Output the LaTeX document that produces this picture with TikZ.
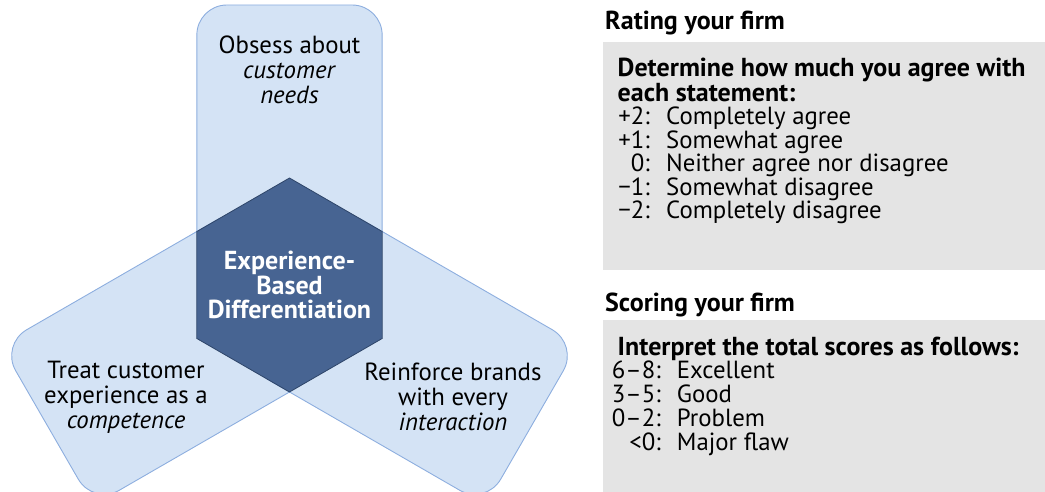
\documentclass[tikz,border=0pt]{standalone}
\usepackage{fontspec}
\setmainfont{PT Sans}
\usepackage{xcolor}
\usetikzlibrary{calc}

\definecolor{stripblue}{HTML}{D4E3F5}
\definecolor{stripedge}{HTML}{8DAEDF}
\definecolor{hexblue}{HTML}{476492}
\definecolor{hexedge}{HTML}{2E4569}
\definecolor{panelgray}{HTML}{E4E4E4}

\begin{document}
\begin{tikzpicture}[x=1pt,y=-1pt,
    strip/.style={fill=stripblue,draw=stripedge,line width=0.9pt,rounded corners=30pt},
    hexa/.style={fill=hexblue,draw=hexedge,line width=0.8pt},
    armtext/.style={align=center,inner sep=0pt,font=\fontsize{24.8}{25}\selectfont},
    hubtext/.style={align=center,inner sep=0pt,text=white,font=\fontsize{26}{24.5}\selectfont\bfseries},
    line/.style={inner sep=0pt,text height=15pt,text depth=5pt},
    head/.style={line,anchor=base west,font=\fontsize{26}{23.4}\selectfont\bfseries},
    block/.style={inner sep=0pt,anchor=base west,align=left,font=\fontsize{26}{23.4}\selectfont\bfseries},
    item/.style={line,anchor=base west,font=\fontsize{24.8}{23}\selectfont},
    score/.style={line,anchor=base east,font=\fontsize{24.8}{23}\selectfont}]
  \pgfmathsetmacro{\R}{107}     % hexagon radius
  \pgfmathsetmacro{\w}{92.66}   % half width of an arm
  \pgfmathsetmacro{\L}{280}     % arm length from the centre

  \useasboundingbox (0,0) rectangle (1045,492);
  \clip (0,0) rectangle (1045,492);

  \coordinate (C) at (289.5,285);

  % three arms, rounded at the outer end
  \foreach \a in {0,120,240}{
    \draw[strip,shift={(C)},rotate=\a] (-\w,-\L) rectangle (\w,0);
  }

  % hexagon where the arms meet
  \draw[hexa] ($(C)+(30:\R)$)
    \foreach \t in {90,150,...,330}{ -- ($(C)+(\t:\R)$) } -- cycle;

  % arm labels
  \node[armtext] (needs) at (289.5,70) {Obsess about\\\textit{customer}\\\textit{needs}};
  \node[armtext] (competence) at (126,397) {Treat customer\\experience as a\\\textit{competence}};
  \node[armtext] (interaction) at (453,397) {Reinforce brands\\with every\\\textit{interaction}};
  \node[hubtext] (hub) at (C) {Experience-\\Based\\Differentiation};

  % grey panels on the right
  \fill[panelgray] (603.3,41.7) rectangle (1045,270);
  \fill[panelgray] (603.3,320) rectangle (1045,492);

  % rating scale (block sits on the baseline of its last line)
  \node[head] (rating) at (605,29.3) {Rating your firm};
  \node[block] (determine) at (617.5,101.6) {Determine how much you agree with\\each statement:};
  \foreach \v/\t [count=\i] in {+2/Completely agree, +1/Somewhat agree,
      0/Neither agree nor disagree, −1/Somewhat disagree, −2/Completely disagree}{
    \node[score] (rate\i) at (650,101.6+23.4*\i) {\v:};
    \node[item] (rateText\i) at (666,101.6+23.4*\i) {\t};
  }

  % scoring bands
  \node[head] (scoring) at (605,311.7) {Scoring your firm};
  \node[head] (interpret) at (617.5,355) {Interpret the total scores as follows:};
  \foreach \v/\t [count=\i] in {6–8/Excellent, 3–5/Good, 0–2/Problem, <0/Major flaw}{
    \node[score] (band\i) at (661,355+23.8*\i) {\v:};
    \node[item] (bandText\i) at (676.7,355+23.8*\i) {\t};
  }
\end{tikzpicture}
\end{document}
